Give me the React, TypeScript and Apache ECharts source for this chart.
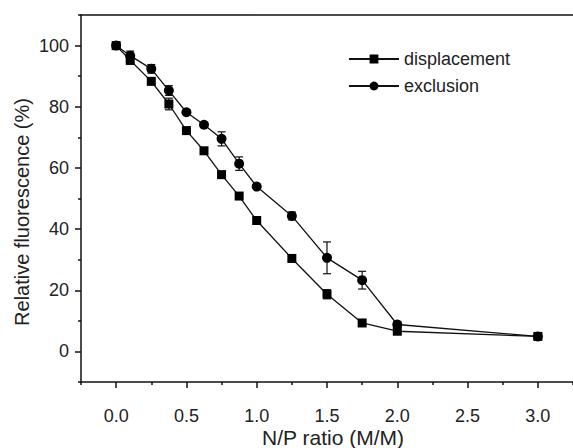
import React, { useEffect, useRef } from "react";
import * as echarts from "echarts";

const ratios = [0, 0.1, 0.25, 0.375, 0.5, 0.625, 0.75, 0.875, 1.0, 1.25, 1.5, 1.75, 2.0, 3.0];
const displacement = [100, 95.2, 88.3, 80.9, 72.2, 65.6, 57.8, 50.8, 42.8, 30.4, 18.7, 9.3, 6.6, 4.9];
const displacementErr = [0.5, 1.3, 0.8, 1.9, 0.5, 0.5, 0.6, 0.6, 0.5, 0.6, 1.5, 0.5, 0.5, 0.5];
const exclusion = [100, 96.7, 92.4, 85.3, 78.2, 74.1, 69.5, 61.4, 53.9, 44.3, 30.6, 23.3, 8.8, 4.9];
const exclusionErr = [0.5, 1.5, 1.4, 1.6, 0.6, 0.6, 2.3, 2.2, 0.6, 1.3, 5.2, 2.9, 1.0, 0.6];
const xMajorTicks = [0, 0.5, 1.0, 1.5, 2.0, 2.5, 3.0];
const xMinorTicks = [-0.25, 0.25, 0.75, 1.25, 1.75, 2.25, 2.75, 3.25];
const yMajorTicks = [0, 20, 40, 60, 80, 100];
const yMinorTicks = [-10, 10, 30, 50, 70, 90, 110];
const seriesNames = ["displacement", "exclusion"];

const FONT = "Liberation Sans, Arial, sans-serif";

function errorSeries(vals: number[], errs: number[]) {
  const data = ratios.map((x, i) => [x, vals[i] - errs[i], vals[i] + errs[i]]);
  return {
    type: "custom",
    silent: true,
    z: 1,
    renderItem: (_params: any, api: any) => {
      const x = api.value(0);
      const lo = api.coord([x, api.value(1)]);
      const hi = api.coord([x, api.value(2)]);
      const cw = 4;
      const style = { stroke: "#111", lineWidth: 1.2 };
      return {
        type: "group",
        children: [
          { type: "line", shape: { x1: lo[0], y1: lo[1], x2: hi[0], y2: hi[1] }, style },
          { type: "line", shape: { x1: lo[0] - cw, y1: lo[1], x2: lo[0] + cw, y2: lo[1] }, style },
          { type: "line", shape: { x1: hi[0] - cw, y1: hi[1], x2: hi[0] + cw, y2: hi[1] }, style },
        ],
      };
    },
    data,
  };
}

export default function App() {
  const ref = useRef<HTMLDivElement>(null);
  useEffect(() => {
    if (!ref.current) return;
    const chart = echarts.init(ref.current, null, { renderer: "svg" });
    const axisLine = { show: true, onZero: false, lineStyle: { color: "#111", width: 1.5 } };
    const noLine = { show: false, onZero: false };
    chart.setOption({
      animation: false,
      backgroundColor: "#fff",
      grid: { left: 81, top: 15, width: 493, height: 367, containLabel: false },
      legend: {
        orient: "vertical",
        left: 343,
        top: 45,
        itemWidth: 50,
        itemHeight: 11,
        itemGap: 9,
        data: seriesNames,
        textStyle: { fontFamily: FONT, fontSize: 18, color: "#222" },
      },
      xAxis: [
        {
          type: "value",
          min: -0.25,
          max: 3.25,
          position: "bottom",
          axisLine,
          splitLine: { show: false },
          axisTick: { show: true, inside: false, length: 6, customValues: xMajorTicks, lineStyle: { color: "#111", width: 1.5 } },
          axisLabel: {
            customValues: xMajorTicks,
            margin: 25,
            fontFamily: FONT,
            fontSize: 18,
            color: "#222",
            formatter: (v: number) => v.toFixed(1),
          },
        },
        {
          type: "value",
          min: -0.25,
          max: 3.25,
          position: "bottom",
          axisLine: noLine,
          splitLine: { show: false },
          axisTick: { show: true, length: 3, customValues: xMinorTicks, lineStyle: { color: "#111", width: 1.5 } },
          axisLabel: { show: false },
        },
        {
          type: "value",
          min: -0.25,
          max: 3.25,
          position: "top",
          axisLine,
          splitLine: { show: false },
          axisTick: { show: false },
          axisLabel: { show: false },
        },
      ],
      yAxis: [
        {
          type: "value",
          min: -10,
          max: 110,
          position: "left",
          axisLine,
          splitLine: { show: false },
          axisTick: { show: true, length: 6, customValues: yMajorTicks, lineStyle: { color: "#111", width: 1.5 } },
          axisLabel: {
            customValues: yMajorTicks,
            margin: 12,
            fontFamily: FONT,
            fontSize: 18,
            color: "#222",
          },
        },
        {
          type: "value",
          min: -10,
          max: 110,
          position: "left",
          axisLine: noLine,
          splitLine: { show: false },
          axisTick: { show: true, length: 3, customValues: yMinorTicks, lineStyle: { color: "#111", width: 1.5 } },
          axisLabel: { show: false },
        },
      ],
      graphic: [
        {
          type: "text",
          x: 333,
          y: 437,
          style: {
            text: "N/P ratio (M/M)",
            fontFamily: FONT,
            fontSize: 21,
            fill: "#222",
            align: "center",
            verticalAlign: "middle",
          },
        },
        {
          type: "text",
          x: 22,
          y: 212,
          rotation: Math.PI / 2,
          style: {
            text: "Relative fluorescence (%)",
            fontFamily: FONT,
            fontSize: 20,
            fill: "#222",
            align: "center",
            verticalAlign: "middle",
          },
        },
      ],
      series: [
        errorSeries(displacement, displacementErr),
        errorSeries(exclusion, exclusionErr),
        {
          name: seriesNames[0],
          type: "line",
          z: 3,
          data: ratios.map((x, i) => [x, displacement[i]]),
          symbol: "rect",
          symbolSize: 9,
          lineStyle: { color: "#111", width: 1.3 },
          itemStyle: { color: "#000" },
        },
        {
          name: seriesNames[1],
          type: "line",
          z: 3,
          data: ratios.map((x, i) => [x, exclusion[i]]),
          symbol: "circle",
          symbolSize: 10,
          lineStyle: { color: "#111", width: 1.3 },
          itemStyle: { color: "#000" },
        },
      ],
    });
    return () => chart.dispose();
  }, []);
  return <div ref={ref} style={{ width: 573, height: 448, position: "absolute", left: 0, top: 0 }} />;
}
